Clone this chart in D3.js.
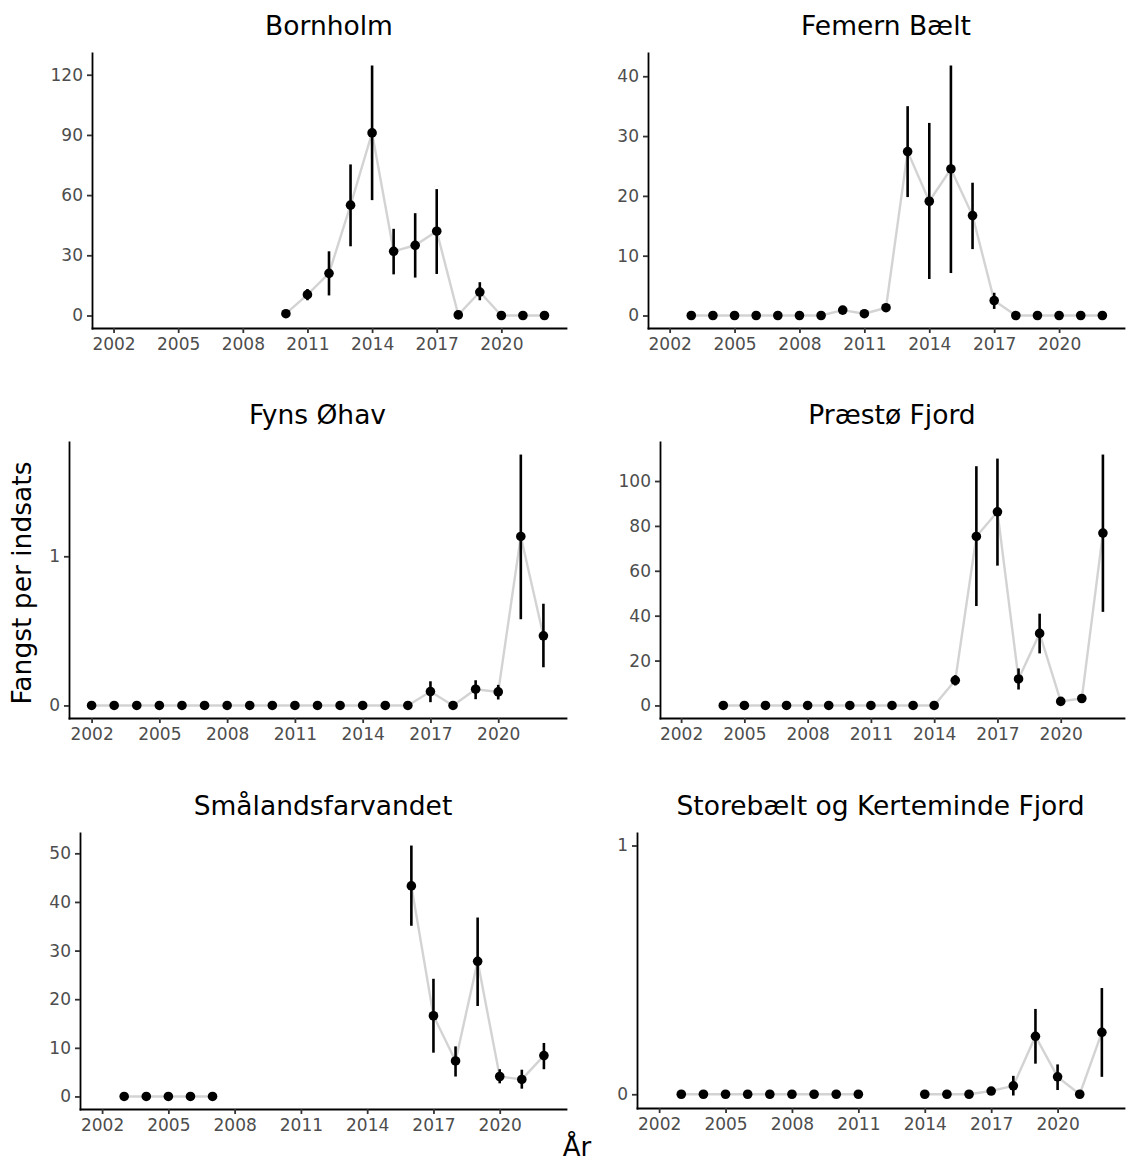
<!DOCTYPE html>
<html>
<head>
<meta charset="utf-8">
<script src="https://cdn.jsdelivr.net/npm/d3@7"></script>
<style>
  body { margin: 0; background: #fff; }
  svg { display: block; font-family: "DejaVu Sans", sans-serif; }
</style>
</head>
<body>
<svg id="chart"></svg>
<script>
// years shared by every panel (null = no survey that year)
var years = [2002, 2003, 2004, 2005, 2006, 2007, 2008, 2009, 2010, 2011, 2012,
             2013, 2014, 2015, 2016, 2017, 2018, 2019, 2020, 2021, 2022];
var xTicks = [2002, 2005, 2008, 2011, 2014, 2017, 2020];

var bornholmMean = [null, null, null, null, null, null, null, null, 0.9, 10.4, 21, 55, 91, 32, 35, 42, 0.3, 11.7, 0, 0, 0];
var bornholmLo   = [null, null, null, null, null, null, null, null, 0.5, 7.6, 10, 34.5, 57.5, 20.5, 18.9, 20.7, 0.1, 7.6, 0, 0, 0];
var bornholmHi   = [null, null, null, null, null, null, null, null, 1.4, 13.2, 32, 75.3, 124.6, 43.2, 51, 63, 0.6, 16.6, 0, 0, 0];

var femernMean = [null, 0, 0, 0, 0, 0, 0, 0, 0.9, 0.3, 1.3, 27.4, 19.1, 24.5, 16.7, 2.5, 0, 0, 0, 0, 0];
var femernLo   = [null, 0, 0, 0, 0, 0, 0, 0, 0.4, 0.1, 0.8, 19.8, 6.1, 7.1, 11.1, 1.1, 0, 0, 0, 0, 0];
var femernHi   = [null, 0, 0, 0, 0, 0, 0, 0, 1.5, 0.5, 1.8, 35.0, 32.2, 41.8, 22.2, 3.8, 0, 0, 0, 0, 0];

var fynsMean = [0, 0, 0, 0, 0, 0, 0, 0, 0, 0, 0, 0, 0, 0, 0, 0.093, 0, 0.109, 0.091, 1.133, 0.467];
var fynsLo   = [0, 0, 0, 0, 0, 0, 0, 0, 0, 0, 0, 0, 0, 0, 0, 0.022, 0, 0.042, 0.040, 0.578, 0.256];
var fynsHi   = [0, 0, 0, 0, 0, 0, 0, 0, 0, 0, 0, 0, 0, 0, 0, 0.162, 0, 0.169, 0.138, 1.682, 0.682];

var praestoMean = [null, null, 0, 0, 0, 0, 0, 0, 0, 0, 0, 0, 0, 11.2, 75.3, 86.3, 11.8, 32.1, 1.8, 3.1, 76.8];
var praestoLo   = [null, null, 0, 0, 0, 0, 0, 0, 0, 0, 0, 0, 0, 8.9, 44.3, 62.3, 7.1, 23.2, 1.2, 2.4, 41.7];
var praestoHi   = [null, null, 0, 0, 0, 0, 0, 0, 0, 0, 0, 0, 0, 13.5, 106.6, 110, 16.5, 40.9, 2.5, 3.9, 111.8];

var smaalandMean = [null, 0, 0, 0, 0, 0, null, null, null, null, null, null, null, null, 43.3, 16.6, 7.3, 27.8, 4.1, 3.5, 8.4];
var smaalandLo   = [null, 0, 0, 0, 0, 0, null, null, null, null, null, null, null, null, 35.1, 9.0, 4.1, 18.6, 2.7, 1.6, 5.6];
var smaalandHi   = [null, 0, 0, 0, 0, 0, null, null, null, null, null, null, null, null, 51.6, 24.2, 10.3, 36.8, 5.6, 5.5, 11.0];

var storebaeltMean = [null, 0, 0, 0, 0, 0, 0, 0, 0, 0, null, null, 0, 0, 0, 0.013, 0.034, 0.233, 0.070, 0, 0.249];
var storebaeltLo   = [null, 0, 0, 0, 0, 0, 0, 0, 0, 0, null, null, 0, 0, 0, 0.005, -0.005, 0.123, 0.017, 0, 0.070];
var storebaeltHi   = [null, 0, 0, 0, 0, 0, 0, 0, 0, 0, null, null, 0, 0, 0, 0.022, 0.074, 0.343, 0.120, 0, 0.427];

var titles = ["Bornholm", "Femern Bælt", "Fyns Øhav", "Præstø Fjord", "Smålandsfarvandet", "Storebælt og Kerteminde Fjord"];
var yTicks = [[0, 30, 60, 90, 120], [0, 10, 20, 30, 40], [0, 1], [0, 20, 40, 60, 80, 100], [0, 10, 20, 30, 40, 50], [0, 1]];

var chart = new function () {
    var svg = d3.select("#chart");
    var width = 1126;
    var height = 1162;
    svg.attr("width", width).attr("height", height);

    // panel boxes (each sub-plot was laid out on its own)
    var boxes = [
        {left: 92,  right: 566,  top: 53,  bottom: 328},
        {left: 648, right: 1124, top: 53,  bottom: 328},
        {left: 69,  right: 566,  top: 442, bottom: 718},
        {left: 660, right: 1124, top: 442, bottom: 718},
        {left: 80,  right: 566,  top: 833, bottom: 1109},
        {left: 637, right: 1124, top: 833, bottom: 1108}
    ];
    var series = [
        [bornholmMean, bornholmLo, bornholmHi],
        [femernMean, femernLo, femernHi],
        [fynsMean, fynsLo, fynsHi],
        [praestoMean, praestoLo, praestoHi],
        [smaalandMean, smaalandLo, smaalandHi],
        [storebaeltMean, storebaeltLo, storebaeltHi]
    ];
    // extra y limits that ggplot kept in the scale
    var includeY = [null, null, null, null, null, 1];

    function expand(ext) {
        var pad = (ext[1] - ext[0]) * 0.05;
        return [ext[0] - pad, ext[1] + pad];
    }

    function drawPanel(i) {
        var b = boxes[i];
        var s = series[i];
        var rows = years.map(function (y, k) {
            return {year: y, mean: s[0][k], lo: s[1][k], hi: s[2][k]};
        });
        var valid = rows.filter(function (d) { return d.mean !== null; });

        var x = d3.scaleLinear().domain(expand(d3.extent(years))).range([b.left, b.right]);
        var yVals = [];
        valid.forEach(function (d) { yVals.push(d.lo, d.hi, d.mean); });
        if (includeY[i] !== null) yVals.push(includeY[i]);
        var y = d3.scaleLinear().domain(expand(d3.extent(yVals))).range([b.bottom, b.top]);

        var g = svg.append("g").attr("class", "panel");

        // grey connecting line, broken where a year is missing
        var line = d3.line()
            .defined(function (d) { return d.mean !== null; })
            .x(function (d) { return x(d.year); })
            .y(function (d) { return y(d.mean); });
        g.append("path")
            .datum(rows.filter(function (d) { return d.year >= valid[0].year; }))
            .attr("d", line)
            .attr("fill", "none")
            .attr("stroke", "#d3d3d3")
            .attr("stroke-width", 2.4);

        g.append("g").selectAll("line")
            .data(valid.filter(function (d) { return d.hi > d.lo; }))
            .enter().append("line")
            .attr("x1", function (d) { return x(d.year); })
            .attr("x2", function (d) { return x(d.year); })
            .attr("y1", function (d) { return y(d.lo); })
            .attr("y2", function (d) { return y(d.hi); })
            .attr("stroke", "#000")
            .attr("stroke-width", 2.6);

        g.append("g").selectAll("circle")
            .data(valid)
            .enter().append("circle")
            .attr("cx", function (d) { return x(d.year); })
            .attr("cy", function (d) { return y(d.mean); })
            .attr("r", 4.8)
            .attr("fill", "#000");

        var xAxis = g.append("g")
            .attr("transform", "translate(0," + b.bottom + ")")
            .call(d3.axisBottom(x).tickValues(xTicks).tickFormat(d3.format("d"))
                .tickSizeInner(5).tickSizeOuter(0).tickPadding(5));
        var yAxis = g.append("g")
            .attr("transform", "translate(" + b.left + ",0)")
            .call(d3.axisLeft(y).tickValues(yTicks[i]).tickFormat(d3.format("d"))
                .tickSizeInner(5).tickSizeOuter(0).tickPadding(4));

        [xAxis, yAxis].forEach(function (a) {
            a.select(".domain").attr("stroke", "#000").attr("stroke-width", 1.8)
                .attr("stroke-linecap", "square");
            a.selectAll(".tick line").attr("stroke", "#333").attr("stroke-width", 1.8);
            a.selectAll(".tick text").attr("fill", "#4d4d4d")
                .style("font-size", "17px").style("font-family", "DejaVu Sans, sans-serif");
        });

        g.append("text")
            .attr("x", (b.left + b.right) / 2)
            .attr("y", b.top - 18)
            .attr("text-anchor", "middle")
            .style("font-size", "26.5px")
            .attr("fill", "#000")
            .text(titles[i]);
    }

    for (var i = 0; i < titles.length; i++) drawPanel(i);

    svg.append("text")
        .attr("transform", "translate(31,583) rotate(-90)")
        .attr("text-anchor", "middle")
        .style("font-size", "26.5px")
        .text("Fangst per indsats");

    svg.append("text")
        .attr("x", 577)
        .attr("y", 1156)
        .attr("text-anchor", "middle")
        .style("font-size", "26px")
        .text("År");
};
</script>
</body>
</html>
